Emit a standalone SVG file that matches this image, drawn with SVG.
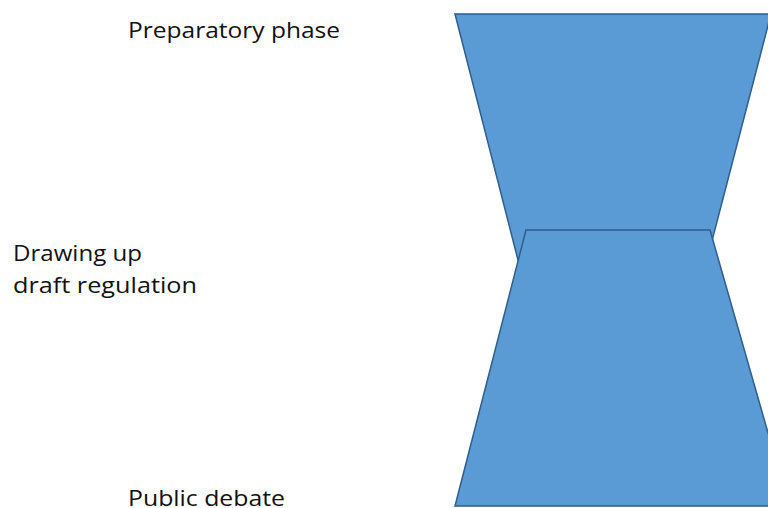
<svg xmlns="http://www.w3.org/2000/svg" width="768" height="508" viewBox="0 0 768 508">
<style>
.shape{fill:#5B9BD5;stroke:#2E5E8C;stroke-width:1.5;stroke-linejoin:miter}
.lbl{font-family:"Open Sans","Noto Sans",sans-serif;font-size:22.5px;fill:#111}
</style>
<rect width="768" height="508" fill="#fff"/>
<g id="top-phase">
<polygon class="shape" points="455,14 771,14 707,260 518,260"/>
</g>
<g id="bottom-phase">
<polygon class="shape" points="526,230 710,230 789,506 455,506"/>
</g>
<g id="connectors"></g>
<g id="label-preparatory">
<text class="lbl" x="128" y="38" textLength="212" lengthAdjust="spacingAndGlyphs">Preparatory phase</text>
</g>
<g id="label-drafting">
<text class="lbl" x="13" y="261" textLength="129" lengthAdjust="spacingAndGlyphs">Drawing up</text>
<text class="lbl" x="13" y="293" textLength="184" lengthAdjust="spacingAndGlyphs">draft regulation</text>
</g>
<g id="label-public">
<text class="lbl" x="128" y="506" textLength="157" lengthAdjust="spacingAndGlyphs">Public debate</text>
</g>
</svg>
